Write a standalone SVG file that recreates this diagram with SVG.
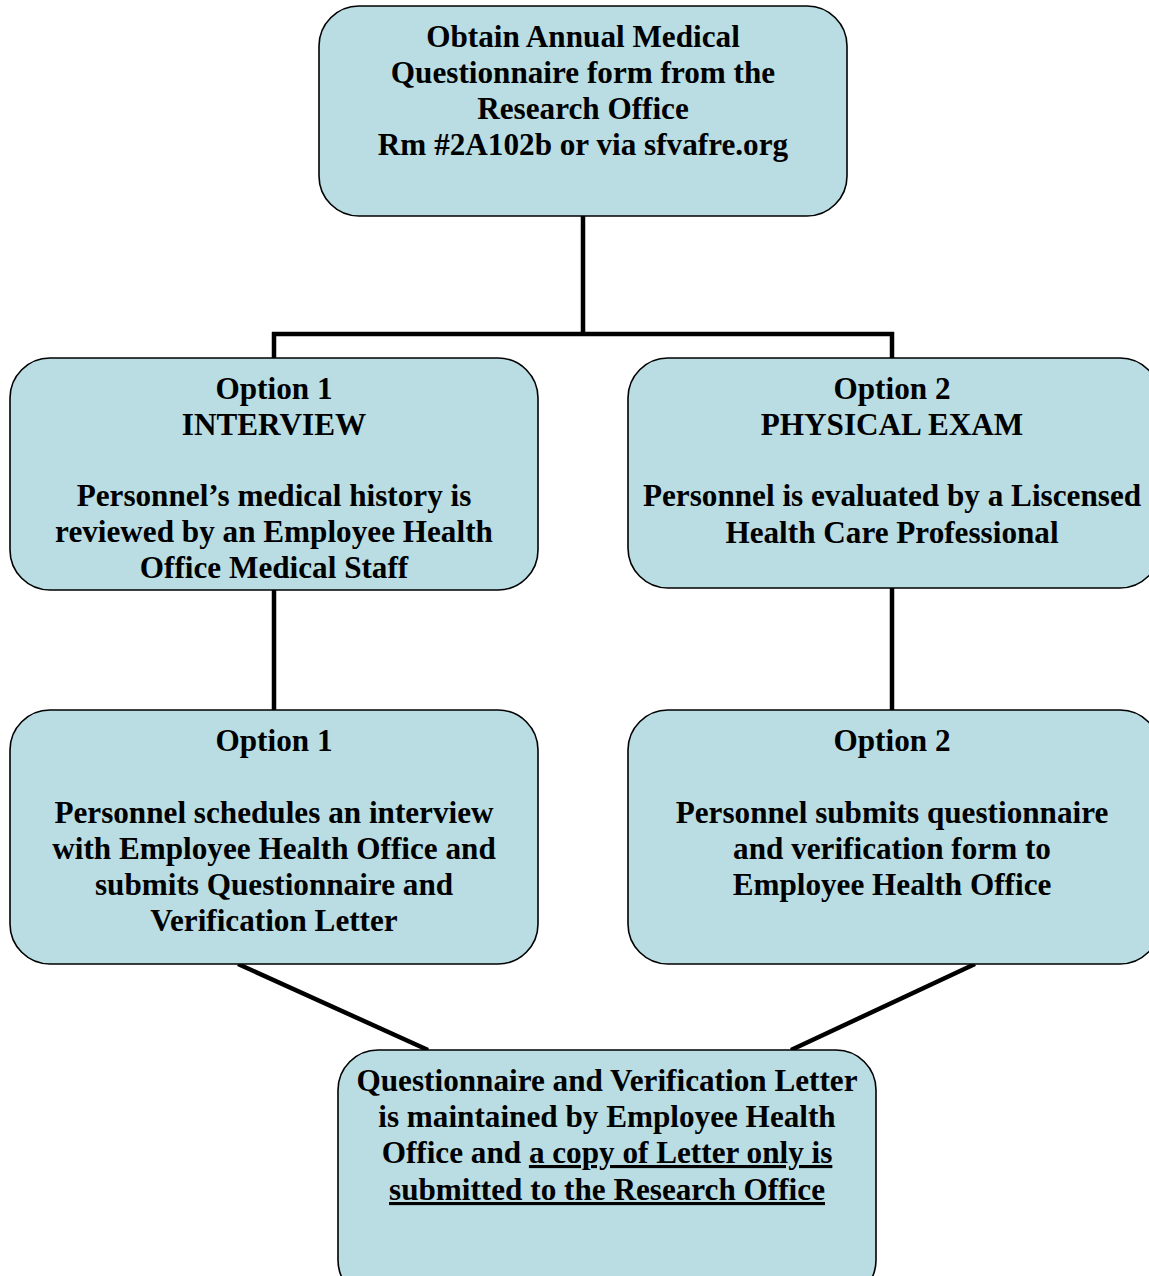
<svg xmlns="http://www.w3.org/2000/svg" width="1149" height="1276" viewBox="0 0 1149 1276">
<style>
.box{fill:#B9DDE3;stroke:#000;stroke-width:1.6}
.t{font-family:"Liberation Serif","Times New Roman",serif;font-weight:bold;font-size:31.2px;fill:#000;text-anchor:middle}
.c{stroke:#000;stroke-width:4.5;fill:none}
</style>
<rect width="1149" height="1276" fill="#fff"/>
<g id="connectors">
<path class="c" d="M583,216 V334 M272,334 H894 M274,332 V358 M892,332 V358"/>
<path class="c" d="M274,590 V710 M892,588 V710"/>
<path class="c" d="M238,964 L428,1050 M975,964 L791,1050"/>
</g>
<g id="n1">
<rect class="box" x="319" y="6" width="528" height="210" rx="40"/>
<text class="t"><tspan x="583" y="47">Obtain Annual Medical</tspan><tspan x="583" y="83">Questionnaire form from the</tspan><tspan x="583" y="119">Research Office</tspan><tspan x="583" y="155">Rm #2A102b or via sfvafre.org</tspan></text>
</g>
<g id="n2">
<rect class="box" x="10" y="358" width="528" height="232" rx="40"/>
<text class="t"><tspan x="274" y="399">Option 1</tspan><tspan x="274" y="435">INTERVIEW</tspan><tspan x="274" y="506">Personnel’s medical history is</tspan><tspan x="274" y="542">reviewed by an Employee Health</tspan><tspan x="274" y="578">Office Medical Staff</tspan></text>
</g>
<g id="n3">
<rect class="box" x="628" y="358" width="532" height="230" rx="40"/>
<text class="t"><tspan x="892" y="399">Option 2</tspan><tspan x="892" y="435">PHYSICAL EXAM</tspan><tspan x="892" y="506">Personnel is evaluated by a Liscensed</tspan><tspan x="892" y="543">Health Care Professional</tspan></text>
</g>
<g id="n4">
<rect class="box" x="10" y="710" width="528" height="254" rx="40"/>
<text class="t"><tspan x="274" y="751">Option 1</tspan><tspan x="274" y="823">Personnel schedules an interview</tspan><tspan x="274" y="859">with Employee Health Office and</tspan><tspan x="274" y="895">submits Questionnaire and</tspan><tspan x="274" y="931">Verification Letter</tspan></text>
</g>
<g id="n5">
<rect class="box" x="628" y="710" width="532" height="254" rx="40"/>
<text class="t"><tspan x="892" y="751">Option 2</tspan><tspan x="892" y="823">Personnel submits questionnaire</tspan><tspan x="892" y="859">and verification form to</tspan><tspan x="892" y="895">Employee Health Office</tspan></text>
</g>
<g id="n6">
<rect class="box" x="338" y="1050" width="538" height="250" rx="40"/>
<text class="t"><tspan x="607" y="1091">Questionnaire and Verification Letter</tspan><tspan x="607" y="1127">is maintained by Employee Health</tspan><tspan x="607" y="1163">Office and <tspan text-decoration="underline">a copy of Letter only is</tspan></tspan><tspan x="607" y="1200" text-decoration="underline">submitted to the Research Office</tspan></text>
</g>
</svg>
